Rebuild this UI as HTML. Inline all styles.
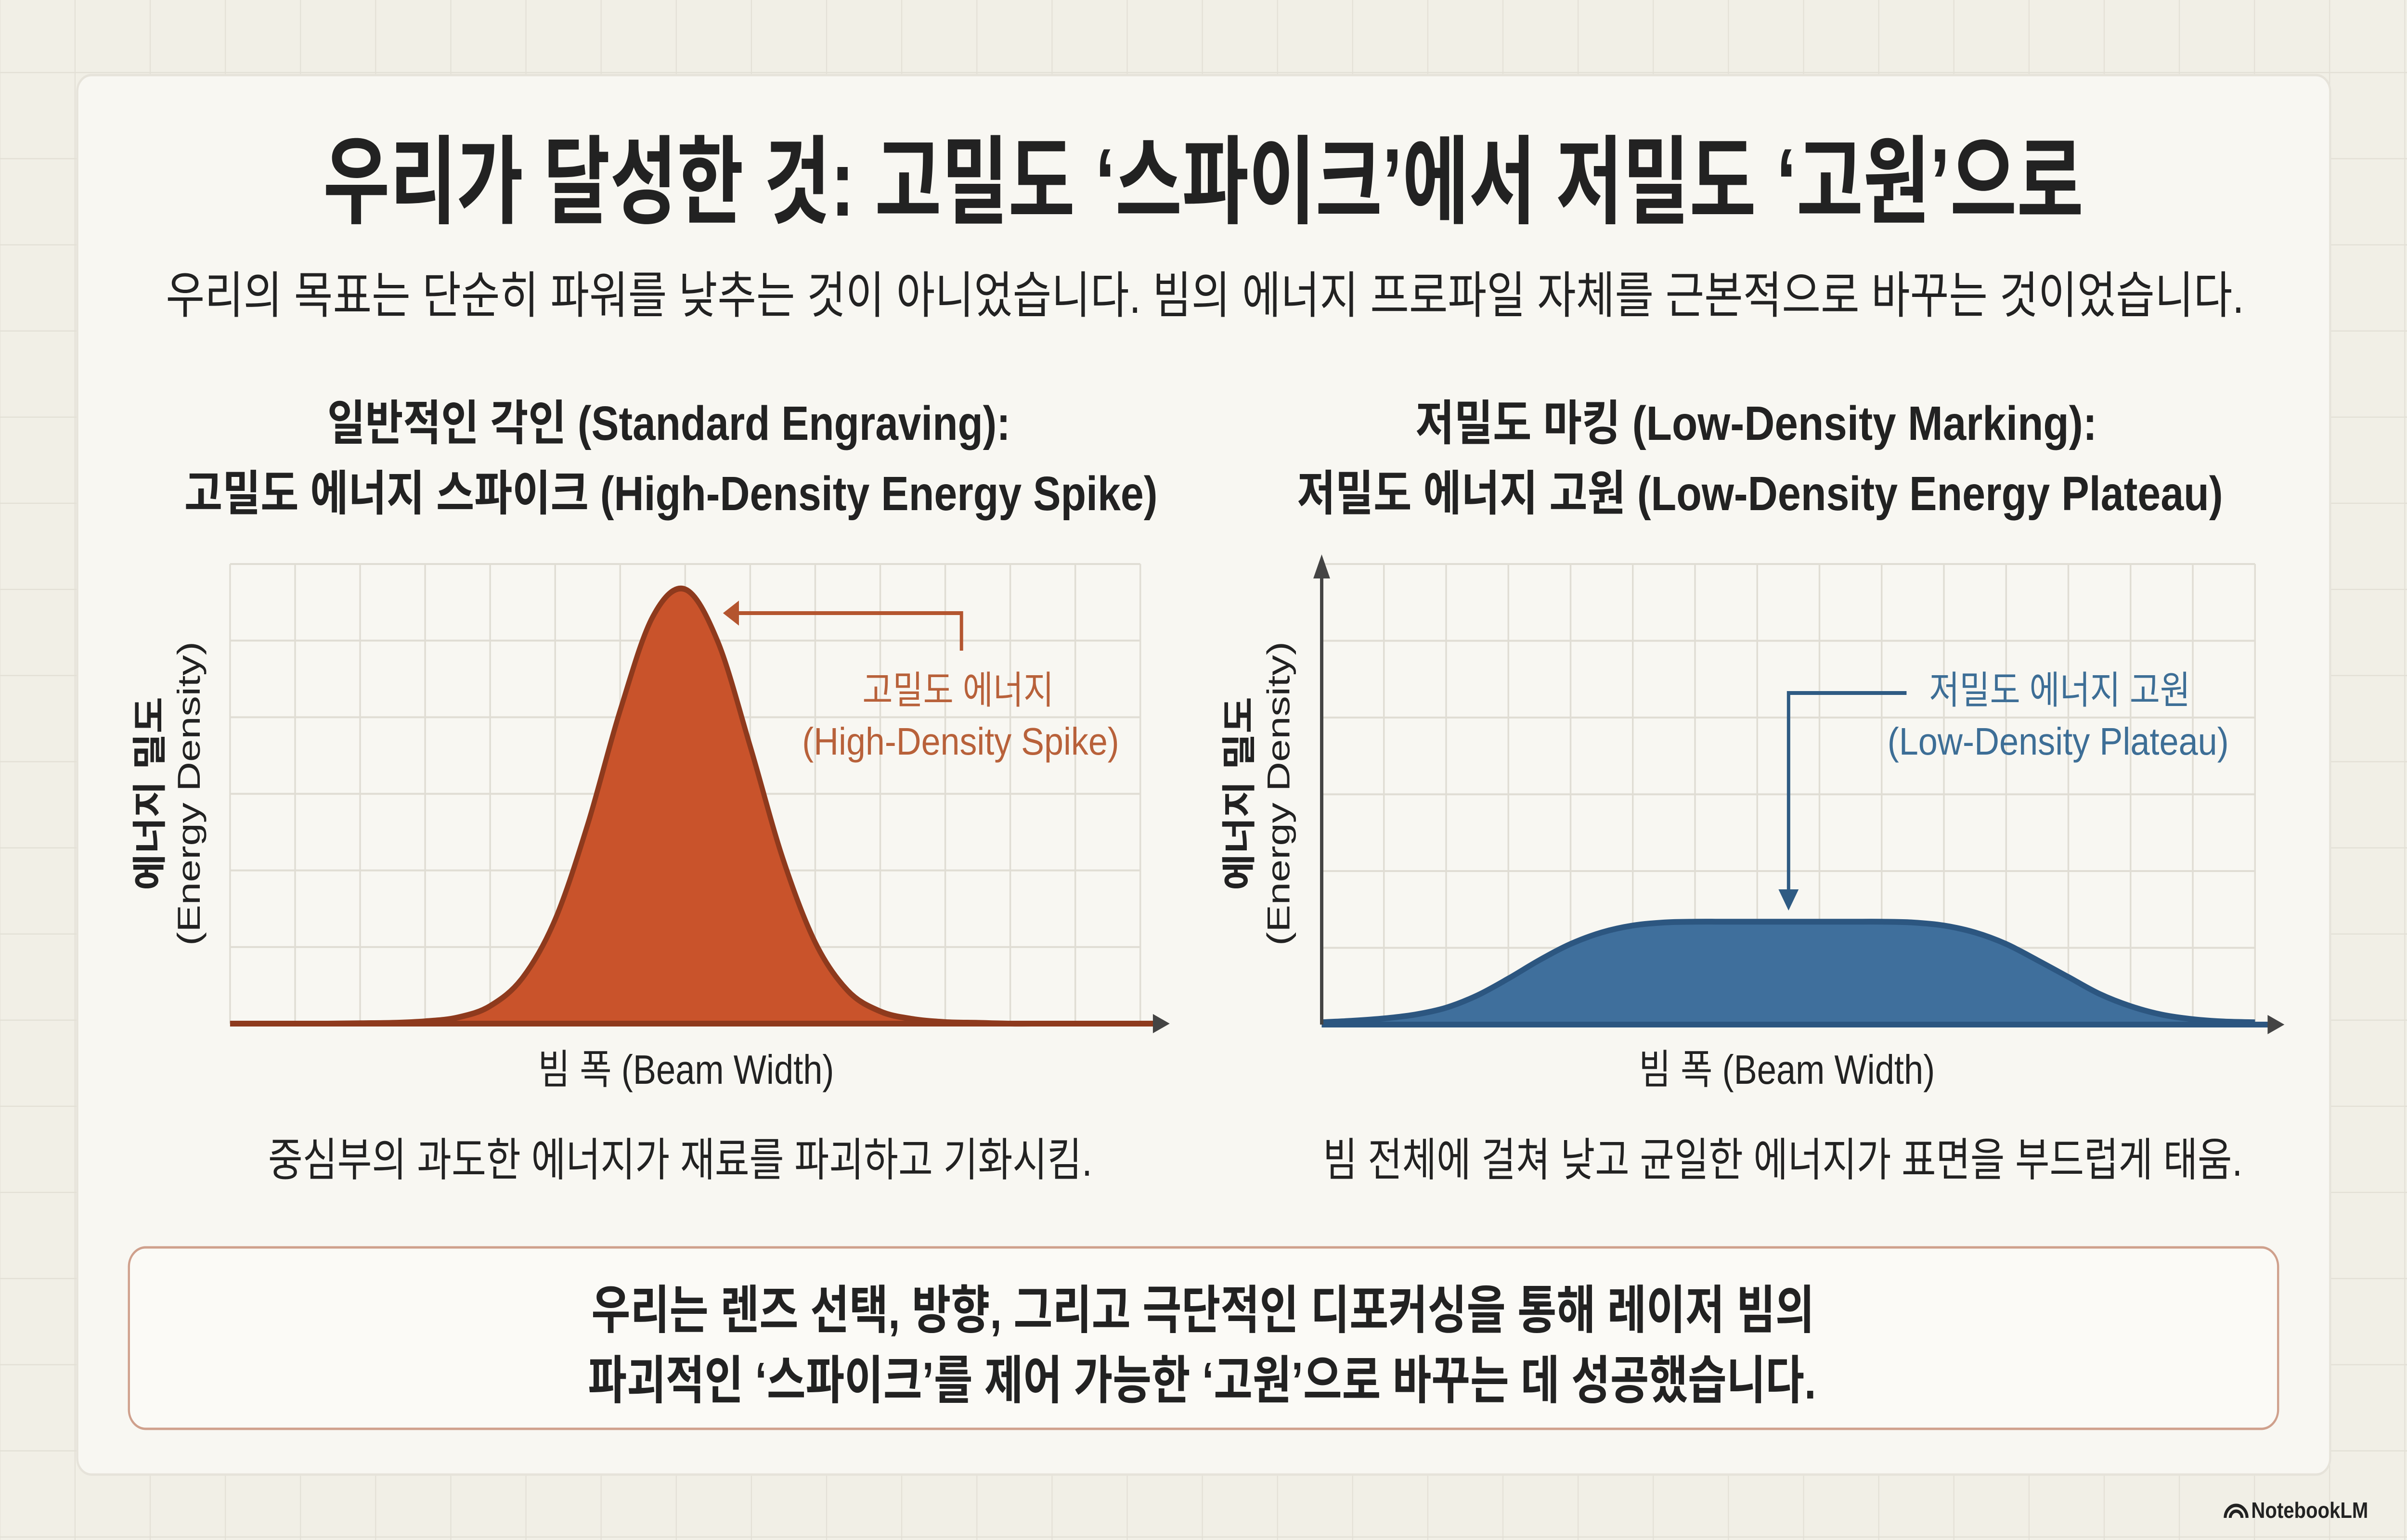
<!DOCTYPE html>
<html><head><meta charset="utf-8">
<style>
html,body{margin:0;padding:0;background:#f1efe6;width:100%;height:100%;overflow:hidden;}
svg{display:block;width:100vw;height:100vh;}
text{font-family:"Liberation Sans","Noto Sans CJK KR",sans-serif;}
</style></head>
<body>
<svg id="root" viewBox="0 0 5733 3200" preserveAspectRatio="none" xmlns="http://www.w3.org/2000/svg">
<defs>
<pattern id="bgGrid" x="1" y="-27" width="179" height="179" patternUnits="userSpaceOnUse">
<path d="M179 0V179M0 179H179" stroke="#e3e0d6" stroke-width="5" fill="none"/>
</pattern>
</defs>
<rect width="5733" height="3200" fill="#f1efe6"/>
<rect width="5733" height="3200" fill="url(#bgGrid)"/>
<rect x="184" y="156" width="5366" height="2908" rx="34" fill="#f8f7f2" stroke="#e6e3da" stroke-width="5"/>

<text x="2866" y="448" text-anchor="middle" font-size="200" font-weight="700" fill="#222" textLength="4193" lengthAdjust="spacingAndGlyphs">우리가 달성한 것: 고밀도 ‘스파이크’에서 저밀도 ‘고원’으로</text>
<text x="2870" y="650" text-anchor="middle" font-size="104" fill="#222" textLength="4950" lengthAdjust="spacingAndGlyphs">우리의 목표는 단순히 파워를 낮추는 것이 아니었습니다. 빔의 에너지 프로파일 자체를 근본적으로 바꾸는 것이었습니다.</text>

<text x="1593" y="914" text-anchor="middle" font-size="100" font-weight="700" fill="#222" textLength="1627" lengthAdjust="spacingAndGlyphs">일반적인 각인 (Standard Engraving):</text>
<text x="1598" y="1060" text-anchor="middle" font-size="100" font-weight="700" fill="#222" textLength="2318" lengthAdjust="spacingAndGlyphs">고밀도 에너지 스파이크 (High-Density Energy Spike)</text>
<text x="4183" y="914" text-anchor="middle" font-size="100" font-weight="700" fill="#222" textLength="1623" lengthAdjust="spacingAndGlyphs">저밀도 마킹 (Low-Density Marking):</text>
<text x="4192" y="1060" text-anchor="middle" font-size="100" font-weight="700" fill="#222" textLength="2205" lengthAdjust="spacingAndGlyphs">저밀도 에너지 고원 (Low-Density Energy Plateau)</text>

<g id="leftChart"></g>
<g id="rightChart"></g>

<text x="1620" y="2443" text-anchor="middle" font-size="95" fill="#222" textLength="1963" lengthAdjust="spacingAndGlyphs">중심부의 과도한 에너지가 재료를 파괴하고 기화시킴.</text>
<text x="4246" y="2443" text-anchor="middle" font-size="95" fill="#222" textLength="2190" lengthAdjust="spacingAndGlyphs">빔 전체에 걸쳐 낮고 균일한 에너지가 표면을 부드럽게 태움.</text>

<rect x="307" y="2592" width="5119" height="377" rx="40" fill="#fbfaf6" stroke="#cfa08c" stroke-width="5"/>
<text x="2865" y="2760" text-anchor="middle" font-size="108" font-weight="700" fill="#222" textLength="2913" lengthAdjust="spacingAndGlyphs">우리는 렌즈 선택, 방향, 그리고 극단적인 디포커싱을 통해 레이저 빔의</text>
<text x="2863" y="2906" text-anchor="middle" font-size="108" font-weight="700" fill="#222" textLength="2925" lengthAdjust="spacingAndGlyphs">파괴적인 ‘스파이크’를 제어 가능한 ‘고원’으로 바꾸는 데 성공했습니다.</text>

<g>
<path d="M5300 3154 a26 26 0 0 1 52 0 M5312 3154 a14 14 0 0 1 28 0" stroke="#222" stroke-width="7" fill="none"/>
<text x="5362" y="3154" font-size="46" fill="#222" font-weight="700">NotebookLM</text>
</g>
</svg>
<script>
// ---- data ----
// left chart: beam position (grid columns) and energy (grid rows)
const spikeX = [0,0.5,1,1.5,2,2.5,3,3.5,4,4.5,5,5.5,6,6.5,7,7.5,8,8.5,9,9.5,10,10.5,11,11.5,12,12.5,13,13.5,14];
const spikeY = [0,0,0,0,0.005,0.01,0.03,0.08,0.23,0.6,1.36,2.6,4.09,5.31,5.67,4.99,3.62,2.16,1.06,0.43,0.16,0.06,0.02,0.01,0,0,0,0,0];
// right chart
const plateauX = [0,0.5,1,1.5,2,2.5,3,3.5,4,4.5,5,5.5,6,6.5,7,7.5,8,8.5,9,9.5,10,10.5,11,11.5,12,12.5,13,13.5,14,14.5,15];
const plateauY = [0.03,0.05,0.08,0.13,0.22,0.38,0.6,0.84,1.05,1.2,1.29,1.33,1.34,1.34,1.34,1.34,1.34,1.34,1.34,1.33,1.29,1.2,1.05,0.84,0.62,0.4,0.24,0.13,0.07,0.04,0.03];
const gridColsLeft = 14, gridColsRight = 15, gridRows = 6;

const NS = "http://www.w3.org/2000/svg";
function mk(tag, attrs, parent){const e=document.createElementNS(NS,tag);for(const k in attrs)e.setAttribute(k,attrs[k]);parent.appendChild(e);return e;}
function smoothPath(pts){
  let d = `M${pts[0][0]},${pts[0][1]}`;
  for(let i=0;i<pts.length-1;i++){
    const p0=pts[Math.max(0,i-1)],p1=pts[i],p2=pts[i+1],p3=pts[Math.min(pts.length-1,i+2)];
    const c1=[p1[0]+(p2[0]-p0[0])/6,p1[1]+(p2[1]-p0[1])/6];
    const c2=[p2[0]-(p3[0]-p1[0])/6,p2[1]-(p3[1]-p1[1])/6];
    d+=` C${c1[0]},${c1[1]} ${c2[0]},${c2[1]} ${p2[0]},${p2[1]}`;
  }
  return d;
}
function drawChart(g, cfg){
  const {x0,x1,yTop,yBase,cols,xs,ys,fill,stroke,yAxis} = cfg;
  const cw=(x1-x0)/cols, rh=(yBase-yTop)/gridRows;
  const sx=v=>x0+v*cw, sy=v=>yBase-v*rh;
  const grid=mk('g',{},g);
  
  
  for(let i=0;i<=cols;i++) mk('line',{x1:sx(i),x2:sx(i),y1:yTop,y2:yBase,stroke:'#e0ddd4','stroke-width':4},grid);
  for(let j=1;j<=gridRows;j++) mk('line',{x1:x0,x2:x1,y1:sy(j),y2:sy(j),stroke:'#e0ddd4','stroke-width':4},grid);
  const pts=xs.map((x,i)=>[sx(x),sy(ys[i])]);
  const line=smoothPath(pts);
  const area=mk('path',{d:line+` L${sx(xs[xs.length-1])},${yBase} L${sx(xs[0])},${yBase} Z`,fill:fill},g);
  
  
  const ln=mk('path',{d:line,fill:'none',stroke:stroke,'stroke-width':12,'stroke-linejoin':'round'},g);
  
  
  const xa=mk('g',{},g);
  
  
  mk('line',{x1:x0,x2:x1+40,y1:yBase,y2:yBase,stroke:stroke,'stroke-width':12},xa);
  mk('path',{d:`M${x1+30},${yBase-20} L${x1+70},${yBase} L${x1+30},${yBase+20}Z`,fill:'#444'},xa);
  if(yAxis){
    const ya=mk('g',{},g);
    
    
    mk('line',{x1:x0,x2:x0,y1:yBase,y2:yTop+10,stroke:'#444','stroke-width':8},ya);
    mk('path',{d:`M${x0-20},${yTop+30} L${x0},${yTop-20} L${x0+20},${yTop+30}Z`,fill:'#444'},ya);
  }
  return {sx,sy};
}
function label(g,attrs,txt,name){const t=mk('text',attrs,g);t.textContent=txt;return t;}

const L=document.getElementById('leftChart');
drawChart(L,{x0:548,x1:2716,yTop:1172,yBase:2127,cols:gridColsLeft,xs:spikeX,ys:spikeY,fill:'#c9532b',stroke:'#8e3a1d',yAxis:false});
const R=document.getElementById('rightChart');
drawChart(R,{x0:3148,x1:5371,yTop:1172,yBase:2129,cols:gridColsRight,xs:plateauX,ys:plateauY,fill:'#3f6f9c',stroke:'#2c5680',yAxis:true});

label(L,{x:1634,y:2252,'text-anchor':'middle','font-size':85,fill:'#222',textLength:705,lengthAdjust:'spacingAndGlyphs'},'빔 폭 (Beam Width)','x-axis-title');
label(R,{x:4256,y:2252,'text-anchor':'middle','font-size':85,fill:'#222',textLength:705,lengthAdjust:'spacingAndGlyphs'},'빔 폭 (Beam Width)','x-axis-title');
[[385,476,1649],[2980,3071,1649]].forEach(([a,b,cy],k)=>{
  const g=k?R:L;
  label(g,{x:a,y:cy,'text-anchor':'middle','font-size':82,'font-weight':700,fill:'#222',transform:`rotate(-90 ${a} ${cy})`,textLength:402,lengthAdjust:'spacingAndGlyphs'},'에너지 밀도','y-axis-title-korean');
  label(g,{x:b,y:cy,'text-anchor':'middle','font-size':76,fill:'#222',transform:`rotate(-90 ${b} ${cy})`,textLength:632,lengthAdjust:'spacingAndGlyphs'},'(Energy Density)','y-axis-title-english');
});

const la=mk('g',{},L);


mk('path',{d:'M2290,1352 V1274 H1745',fill:'none',stroke:'#b4552f','stroke-width':8},la);
mk('path',{d:'M1760,1248 L1722,1274 L1760,1300Z',fill:'#b4552f'},la);
label(la,{x:2282,y:1462,'text-anchor':'middle','font-size':80,fill:'#b8613a',textLength:456,lengthAdjust:'spacingAndGlyphs'},'고밀도 에너지','spike-annotation-label');
label(la,{x:2288,y:1568,'text-anchor':'middle','font-size':80,fill:'#b8613a',textLength:755,lengthAdjust:'spacingAndGlyphs'},'(High-Density Spike)','spike-annotation-sublabel');

const ra=mk('g',{},R);


mk('path',{d:'M4541,1440 H4260 V1860',fill:'none',stroke:'#2f5b83','stroke-width':8},ra);
mk('path',{d:'M4236,1848 L4260,1892 L4284,1848Z',fill:'#2f5b83'},ra);
label(ra,{x:4906,y:1462,'text-anchor':'middle','font-size':80,fill:'#3d6e96',textLength:622,lengthAdjust:'spacingAndGlyphs'},'저밀도 에너지 고원','plateau-annotation-label');
label(ra,{x:4902,y:1568,'text-anchor':'middle','font-size':80,fill:'#3d6e96',textLength:813,lengthAdjust:'spacingAndGlyphs'},'(Low-Density Plateau)','plateau-annotation-sublabel');
</script>
</body></html>
